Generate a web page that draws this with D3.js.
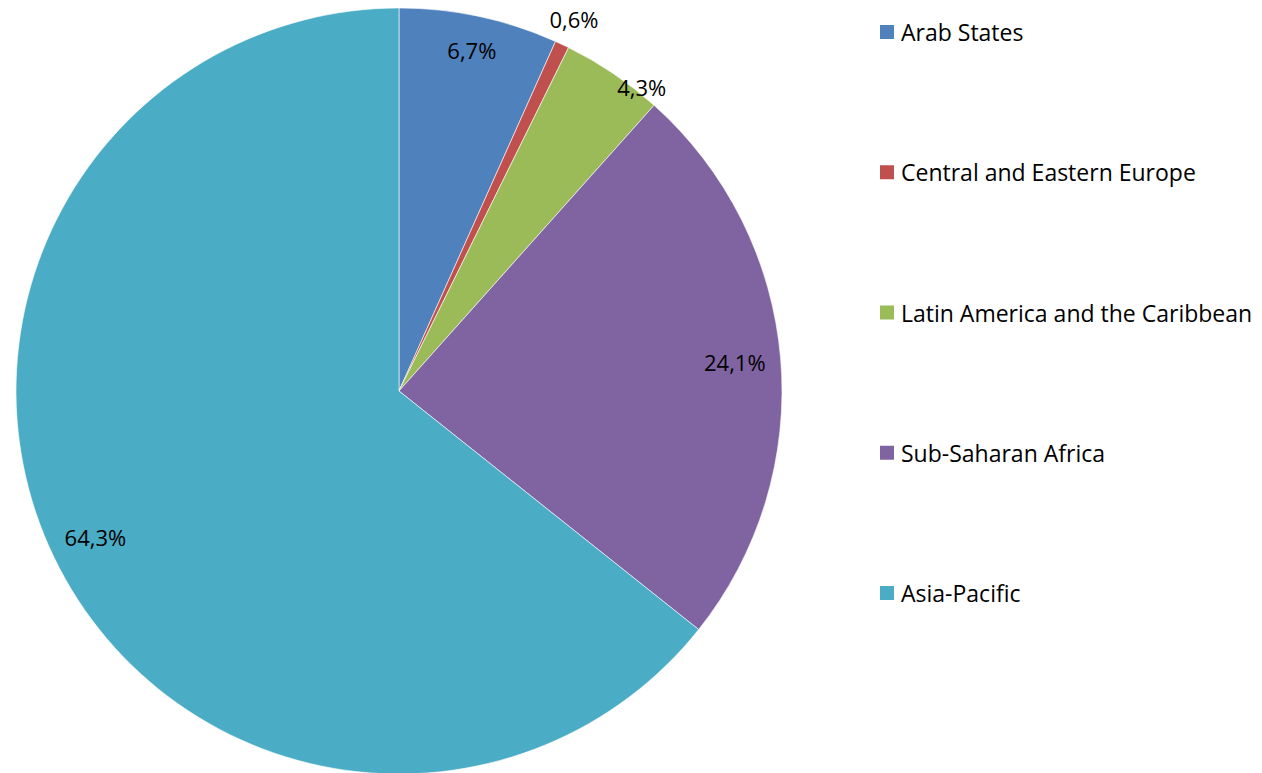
<!DOCTYPE html>
<html><head><meta charset="utf-8">
<script src="https://cdn.jsdelivr.net/npm/d3@7"></script>
<style>body{margin:0;background:#fff}svg{display:block}text{font-family:"Open Sans",Lato,sans-serif}</style>
</head><body>
<svg id="c" width="1262" height="773"></svg>
<script>
const categories = ["Arab States","Central and Eastern Europe","Latin America and the Caribbean","Sub-Saharan Africa","Asia-Pacific"];
const values = [6.7, 0.6, 4.3, 24.1, 64.3];
const colors = ["#4F81BD","#C0504D","#9BBB59","#8064A2","#4BACC6"];
const labels = ["6,7%","0,6%","4,3%","24,1%","64,3%"];

const svg = d3.select("#c");
const cx = 399, cy = 391, r = 383;
const g = svg.append("g").attr("transform",`translate(${cx},${cy})`);
const pie = d3.pie().sort(null).value(d=>d);
const arcs = pie(values);
const arc = d3.arc().innerRadius(0).outerRadius(r);
g.selectAll("path").data(arcs).enter().append("path")
  .attr("d",arc).attr("fill",(d,i)=>colors[i])
  .attr("stroke","#fff").attr("stroke-width",0.6);

function labelPos(d){
  const v = d.data;
  let rr = v < 1 ? r+28 : v < 5 ? r+6 : v < 10 ? r*0.91 : r*0.88;
  let a = (d.startAngle+d.endAngle)/2;
  if (v >= 1 && v < 5) a += 0.08;
  return [Math.sin(a)*rr, -Math.cos(a)*rr];
}
g.selectAll("text.lbl").data(arcs).enter().append("text")
  .attr("class","lbl")
  .attr("x",d=>labelPos(d)[0]).attr("y",d=>labelPos(d)[1])
  .attr("text-anchor","middle").attr("dominant-baseline","central")
  .attr("font-size",22).attr("fill","#000")
  .text((d,i)=>labels[i]);

const ly = d3.scalePoint().domain(categories).range([32,593]);
const lg = svg.append("g");
const items = lg.selectAll("g").data(categories).enter().append("g")
  .attr("transform",d=>`translate(880,${ly(d)})`);
items.append("rect").attr("x",0).attr("y",-7).attr("width",14).attr("height",14)
  .attr("fill",(d,i)=>colors[i]);
items.append("text").attr("x",21).attr("y",0).attr("dominant-baseline","central")
  .attr("font-size",23).attr("fill","#000").text(d=>d);
</script>
</body></html>
